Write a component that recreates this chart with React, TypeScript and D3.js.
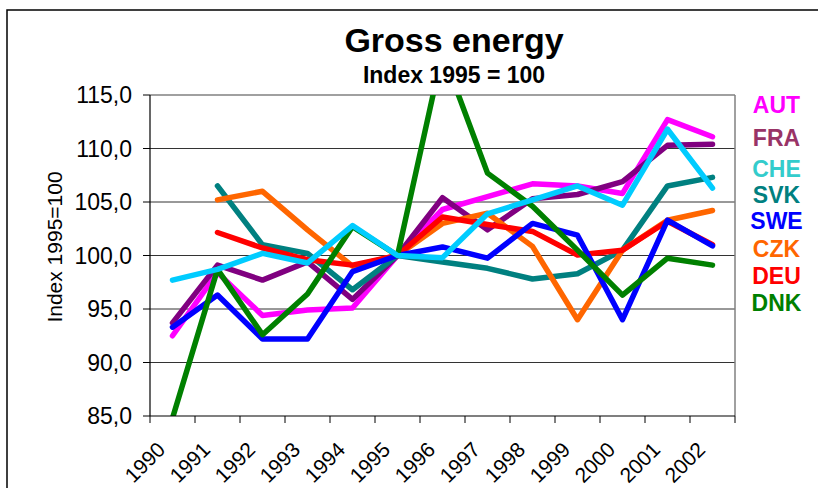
import React from "react";
import * as d3 from "d3";

const years = ["1990","1991","1992","1993","1994","1995","1996","1997","1998","1999","2000","2001","2002"];
const yTicks = [85, 90, 95, 100, 105, 110, 115];

const AUT = [92.5, 98.4, 94.4, 94.9, 95.1, 100, 104.3, 105.5, 106.7, 106.5, 105.8, 112.7, 111.1];
const FRA = [93.7, 99.1, 97.7, 99.4, 95.9, 100, 105.4, 102.4, 105.3, 105.7, 106.9, 110.3, 110.4];
const CHE = [97.7, 98.7, 100.2, 99.3, 102.8, 100, 99.8, 103.9, 105.2, 106.5, 104.7, 111.8, 106.3];
const SVK = [null, 106.5, 101.0, 100.2, 96.8, 100, 99.4, 98.8, 97.8, 98.3, 100.5, 106.5, 107.3];
const SWE = [93.3, 96.3, 92.2, 92.2, 98.5, 100, 100.8, 99.75, 103.0, 101.9, 94.0, 103.3, 100.9];
const CZK = [null, 105.2, 106.0, 102.4, 99.0, 100, 103.0, 103.95, 100.85, 94.0, 100.5, 103.3, 104.2];
const DEU = [null, 102.15, 100.7, 99.6, 99.1, 100, 103.6, 102.9, 102.25, 100.05, 100.5, 103.2, 101.0];
const DNK = [84.8, 98.7, 92.6, 96.4, 102.7, 100, 119.0, 107.7, 104.6, 100.5, 96.3, 99.75, 99.1];

// drawing order (bottom -> top)
const seriesNames = ["AUT", "FRA", "SVK", "CZK", "DEU", "SWE", "DNK", "CHE"];
const seriesData: Record<string, (number | null)[]> = { AUT, FRA, CHE, SVK, SWE, CZK, DEU, DNK };
const lineColors: Record<string, string> = {
  AUT: "#FF00FF", FRA: "#800080", CHE: "#00CCFF", SVK: "#008080",
  SWE: "#0000FF", CZK: "#FF6600", DEU: "#FF0000", DNK: "#008000",
};
const legendNames = ["AUT", "FRA", "CHE", "SVK", "SWE", "CZK", "DEU", "DNK"];
const legendColors: Record<string, string> = {
  AUT: "#FF00FF", FRA: "#993366", CHE: "#33CCCC", SVK: "#008080",
  SWE: "#0000FF", CZK: "#FF6600", DEU: "#FF0000", DNK: "#008000",
};
const legendBaselines = [113, 146, 177, 203, 229, 257, 284, 311];

const W = 818, H = 488;
const L = 150, R = 735, T = 95, B = 416;
const FONT = "'Liberation Sans', Arial, Helvetica, sans-serif";

export default function App() {
  const x = d3.scaleBand<string>().domain(years).range([L, R]).padding(0);
  const y = d3.scaleLinear().domain([85, 115]).range([B, T]);
  const cx = (i: number) => (x(years[i]) as number) + x.bandwidth() / 2;
  const fmt = (v: number) => d3.format(".1f")(v).replace(".", ",");
  const line = d3
    .line<number | null>()
    .defined((d) => d != null)
    .x((_, i) => cx(i))
    .y((d) => y(d as number));

  const boundaries = d3.range(years.length + 1).map((i) => L + i * x.bandwidth());

  return (
    <svg width={W} height={H} style={{ position: "absolute", left: 0, top: 0, display: "block", background: "#fff" }} fontFamily={FONT}>
      <defs>
        <clipPath id="plotClip">
          <rect x={L} y={T} width={R - L} height={B - T} />
        </clipPath>
      </defs>
      <rect x={7} y={10} width={840} height={520} fill="#fff" stroke="#000" strokeWidth={1.5} />

      <text x={454} y={51.5} textAnchor="middle" fontSize={34} fontWeight="bold" fill="#000">Gross energy</text>
      <text x={454} y={83.3} textAnchor="middle" fontSize={23} fontWeight="bold" fill="#000">Index 1995 = 100</text>

      {/* gridlines */}
      {yTicks.filter((t) => t !== 85 && t !== 115).map((t) => (
        <line key={t} x1={L} x2={R} y1={y(t)} y2={y(t)} stroke="#333" strokeWidth={1} />
      ))}
      {/* plot border top/right */}
      <line x1={L} x2={R} y1={T} y2={T} stroke="#808080" strokeWidth={1.5} />
      <line x1={R} x2={R} y1={T} y2={B} stroke="#808080" strokeWidth={1.5} />

      {/* series */}
      <g clipPath="url(#plotClip)">
        {seriesNames.map((n) => (
          <path key={n} d={line(seriesData[n]) || ""} fill="none" stroke={lineColors[n]} strokeWidth={5.5} strokeLinejoin="round" strokeLinecap="round" />
        ))}
      </g>

      {/* axes */}
      <line x1={L} x2={L} y1={T} y2={B} stroke="#000" strokeWidth={1.2} />
      <line x1={L} x2={R} y1={B} y2={B} stroke="#000" strokeWidth={1.2} />
      {yTicks.map((t) => (
        <g key={t}>
          <line x1={L - 7} x2={L} y1={y(t)} y2={y(t)} stroke="#000" strokeWidth={1} />
          <text x={132} y={y(t)} dy="0.36em" textAnchor="end" fontSize={23} fill="#000">{fmt(t)}</text>
        </g>
      ))}
      {boundaries.map((bx, i) => (
        <line key={i} x1={bx} x2={bx} y1={B} y2={B + 7} stroke="#000" strokeWidth={1} />
      ))}
      {years.map((yr, i) => (
        <text key={yr} transform={`translate(${cx(i) - 6},${451}) rotate(-45)`} textAnchor="end" fontSize={21} fill="#000">{yr}</text>
      ))}

      <text transform={`translate(62,247) rotate(-90)`} textAnchor="middle" fontSize={21} fill="#000">Index 1995=100</text>

      {legendNames.map((n, i) => (
        <text key={n} x={776.5} y={legendBaselines[i]} textAnchor="middle" fontSize={23} fontWeight="bold" fill={legendColors[n]}>{n}</text>
      ))}
    </svg>
  );
}
